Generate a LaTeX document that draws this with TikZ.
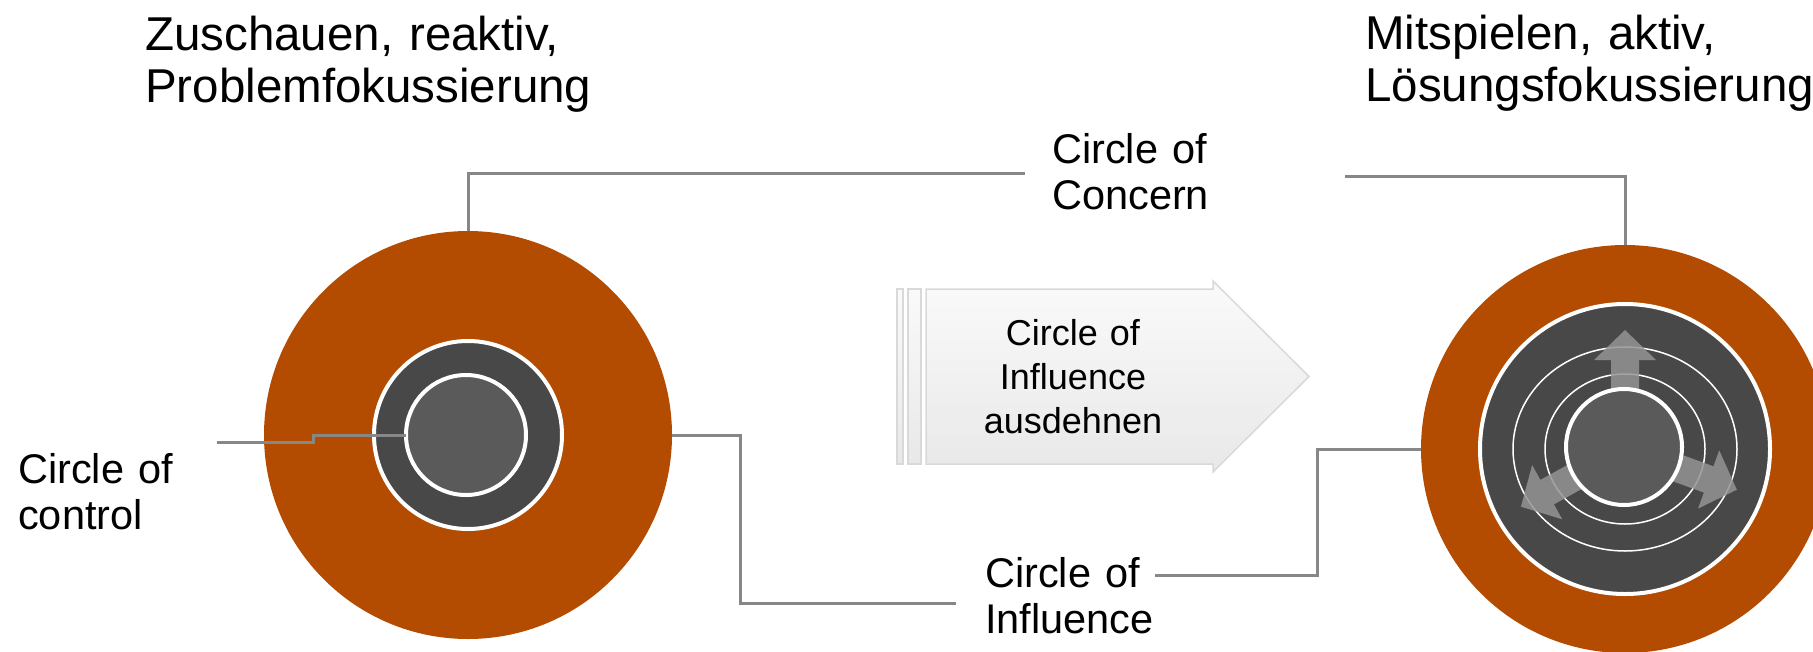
\documentclass[tikz,border=0pt]{standalone}
\usepackage{fontspec}
\setmainfont{Liberation Sans}
\usepackage{tikz}
\definecolor{concern}{HTML}{B34C00}
\definecolor{influence}{HTML}{484848}
\definecolor{control}{HTML}{5A5A5A}
\definecolor{conngray}{HTML}{878787}

\begin{document}
\begin{tikzpicture}[x=1pt,y=-1pt,
  conn/.style={draw=conngray, line width=3pt},
  disc/.style={circle, inner sep=0pt, outer sep=0pt},
  ring/.style={disc, draw=white, line width=4pt},
  title/.style={anchor=base west, inner sep=0pt, text width=470pt, align=left, font=\fontsize{47.5}{52}\selectfont},
  lbl/.style={anchor=base west, inner sep=0pt, text width=200pt, align=left, font=\fontsize{41.5}{46}\selectfont},
  spread/.style={fill=black!42, fill opacity=.85},
  pane/.style={draw=black!15, top color=black!2, bottom color=black!9, line width=1.5pt}]
\useasboundingbox (0,0) rectangle (1813,651);

\node[title] (watch) at (145,50) {Zuschauen, reaktiv,\\Problemfokussierung};
\node[title] (play) at (1365,49) {Mitspielen, aktiv,\\Lösungsfokussierung};

\node[disc, fill=concern, minimum size=408] (concernL) at (468,435) {};
\node[ring, fill=influence, minimum size=188] (influenceL) at (468,435) {};
\node[ring, fill=control, minimum size=120] (controlL) at (466,435) {};

\node[disc, fill=concern, minimum size=408] (concernR) at (1625,449) {};
\node[ring, fill=influence, minimum size=290] (influenceR) at (1625,449) {};
\draw[white, line width=1.5pt] (influenceR.center) ellipse [x radius=112pt, y radius=102pt];
\draw[white, line width=1.5pt] (influenceR.center) ellipse [x radius=80pt, y radius=75pt];
\fill[spread, shift={(influenceR.center)}, rotate=90] (40,-14) -- (89,-14) -- (89,-31) -- (119,0) -- (89,31) -- (89,14) -- (40,14) -- cycle;
\fill[spread, shift={(influenceR.center)}, rotate=-20] (40,-14) -- (89,-14) -- (89,-31) -- (119,0) -- (89,31) -- (89,14) -- (40,14) -- cycle;
\fill[spread, shift={(influenceR.center)}, rotate=209] (40,-14) -- (89,-14) -- (89,-31) -- (119,0) -- (89,31) -- (89,14) -- (40,14) -- cycle;
\node[ring, fill=control, minimum size=116] (controlR) at (1624,447) {};

\draw[pane] (897,289) rectangle (903,464);
\draw[pane] (908,289) rectangle (921,464);
\draw[pane] (926,289) -- (1213,289) -- (1213,281) -- (1309,376.5) -- (1213,472) -- (1213,464) -- (926,464) -- cycle;
\node[anchor=base, inner sep=0pt, text width=220pt, align=center, font=\fontsize{36}{44}\selectfont] (expandlbl) at (1073,345) {Circle of\\Influence\\ausdehnen};

\node[lbl] (concernlbl) at (1052,163) {Circle of\\Concern};
\node[lbl] (infllbl) at (985,587) {Circle of\\Influence};
\node[lbl] (controllbl) at (18,483) {Circle of\\control};

\coordinate (concernin) at (1025,173);
\coordinate (concernout) at (1345,176);
\coordinate (inflin) at (956,603);
\coordinate (inflout) at (1155,575);
\coordinate (ctrlout) at (217,442);

\draw[conn] (concernL.north) |- (concernin);
\draw[conn] (concernout) -| (concernR.north);
\draw[conn] (concernL.east) -- ++(68,0) |- (inflin);
\draw[conn] (inflout) -- ++(162,0) |- (concernR.west);
\draw[conn] (ctrlout) -- ++(96,0) |- (controlL.west);
\end{tikzpicture}
\end{document}
